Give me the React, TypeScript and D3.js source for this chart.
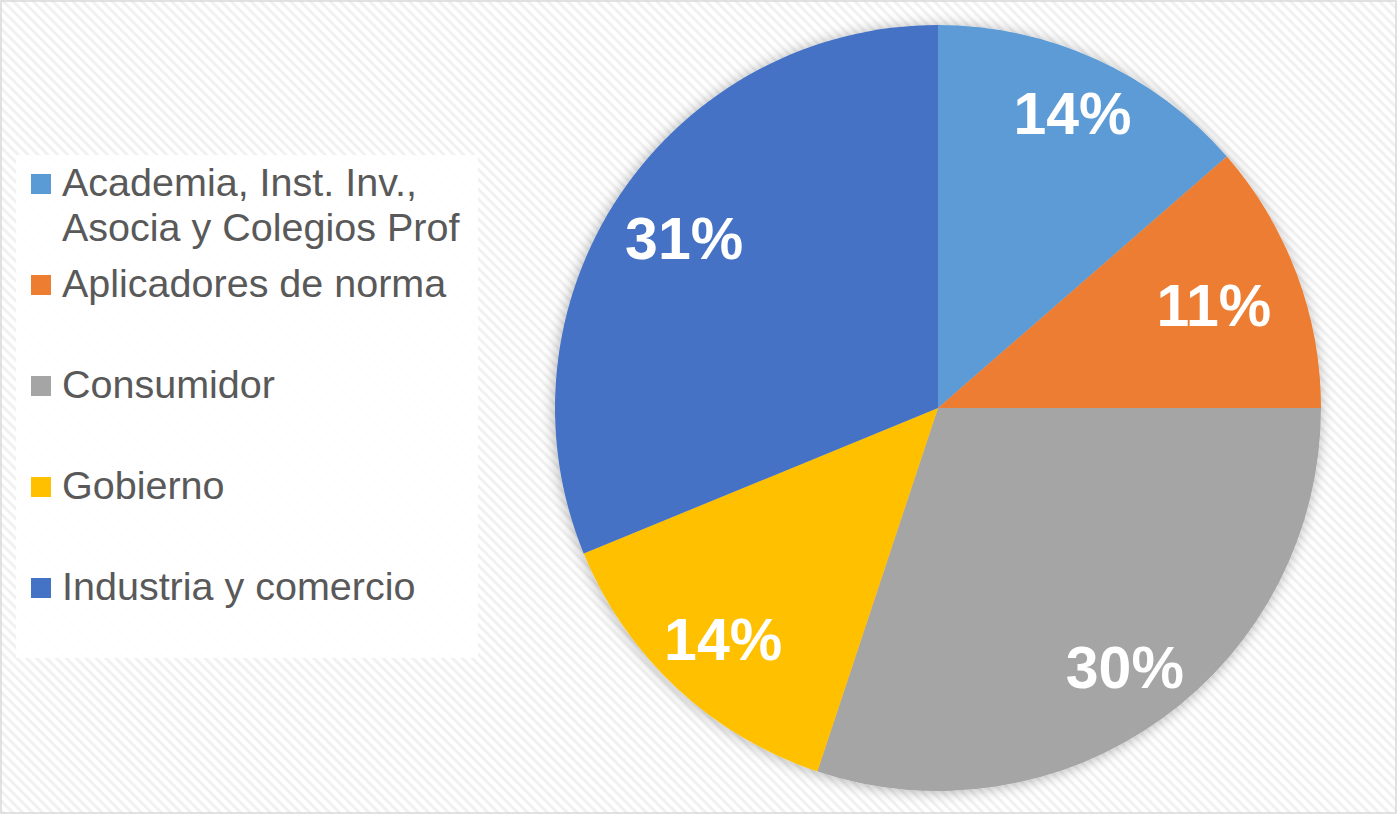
import React from "react";
import * as d3 from "d3";

// slices clockwise from 12 o'clock
const categories = [
  "Academia, Inst. Inv., Asocia y Colegios Prof",
  "Aplicadores de norma",
  "Consumidor",
  "Gobierno",
  "Industria y comercio",
];
const legendLines = [
  ["Academia, Inst. Inv.,", "Asocia y Colegios Prof"],
  ["Aplicadores de norma"],
  ["Consumidor"],
  ["Gobierno"],
  ["Industria y comercio"],
];
const shares = [13.6, 11.4, 30.1, 13.7, 31.2];
const colors = ["#5B9BD5", "#ED7D31", "#A5A5A5", "#FFC000", "#4472C4"];

const W = 1397;
const H = 814;
const cx = 938;
const cy = 408;
const radius = 383;

const FONT = "'Liberation Sans', Arial, sans-serif";

export default function App() {
  const total = d3.sum(shares);
  const pie = d3
    .pie<number>()
    .sort(null)
    .value(d => d);
  const arcs = pie(shares);
  const arc = d3.arc<d3.PieArcDatum<number>>().innerRadius(0).outerRadius(radius);

  // Excel-ish "best fit" label spot: further out where the label is taller than wide
  const labelPos = (a: d3.PieArcDatum<number>) => {
    const mid = (a.startAngle + a.endAngle) / 2;
    const d = radius * (0.72 + 0.14 * Math.abs(Math.cos(mid)));
    return [Math.sin(mid) * d, -Math.cos(mid) * d];
  };

  const legendX = 31;
  const legendTop = 196; // baseline of first row
  const rowStep = 101;
  const lineStep = 45;
  const legendFont = 39.5;

  return (
    <>
      <style>{`body{margin:0;}`}</style>
      <svg width={W} height={H} style={{ display: "block" }}>
        <defs>
          <pattern
            id="bgStripes"
            width={7}
            height={7}
            patternUnits="userSpaceOnUse"
            patternTransform="rotate(-45)"
          >
            <rect width={7} height={7} fill="#ffffff" />
            <rect width={3} height={7} fill="#f1f1f1" />
          </pattern>
          <filter id="pieShadow" x="-20%" y="-20%" width="140%" height="140%">
            <feDropShadow dx={-1} dy={1} stdDeviation={7} floodColor="#000" floodOpacity={0.3} />
          </filter>
        </defs>

        <rect x={0} y={0} width={W} height={H} fill="url(#bgStripes)" />
        <rect
          x={1}
          y={1}
          width={W - 2}
          height={H - 2}
          fill="none"
          stroke="#d9d9d9"
          strokeWidth={1.5}
        />

        {/* legend */}
        <rect x={16} y={155} width={462} height={503} fill="#ffffff" opacity={0.9} />
        {legendLines.map((lines, i) => {
          const base = legendTop + i * rowStep;
          return (
            <g key={categories[i]}>
              <rect x={legendX} y={base - 22} width={20} height={20} fill={colors[i]} />
              {lines.map((ln, j) => (
                <text
                  key={j}
                  x={62}
                  y={base + j * lineStep}
                  fontFamily={FONT}
                  fontSize={legendFont}
                  fill="#595959"
                >
                  {ln}
                </text>
              ))}
            </g>
          );
        })}

        {/* pie */}
        <g transform={`translate(${cx},${cy})`}>
          <g filter="url(#pieShadow)">
            {arcs.map((a, i) => (
              <path key={categories[i]} d={arc(a) || ""} fill={colors[i]} />
            ))}
          </g>
          {arcs.map((a, i) => {
            const [x, y] = labelPos(a);
            return (
              <text
                key={"l" + i}
                x={x}
                y={y + 59 * 0.36}
                textAnchor="middle"
                fontFamily={FONT}
                fontWeight="bold"
                fontSize={59}
                fill="#ffffff"
              >
                {Math.round((a.value / total) * 100)}%
              </text>
            );
          })}
        </g>
      </svg>
    </>
  );
}
